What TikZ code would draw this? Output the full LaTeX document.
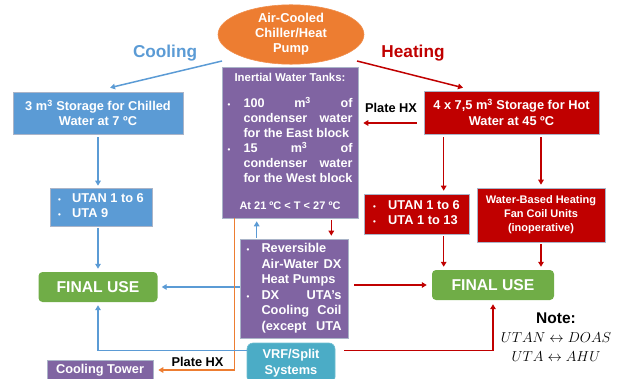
\documentclass[tikz,border=0pt]{standalone}
\usepackage{fontspec}
\setmainfont{Liberation Sans}
\usetikzlibrary{arrows.meta,calc,shapes.geometric}
\definecolor{cblue}{HTML}{5B9BD5}
\definecolor{cred}{HTML}{C00000}
\definecolor{cpurple}{HTML}{8064A2}
\definecolor{cgreen}{HTML}{70AD47}
\definecolor{corange}{HTML}{ED7D31}
\definecolor{cteal}{HTML}{4BACC6}
\definecolor{bord}{RGB}{170,180,200}
\newcommand\fsz[2]{\fontsize{#1}{#2}\selectfont}
\newcommand\bul{{\fontsize{8}{8}\selectfont\textbullet}}
\begin{document}
\begin{tikzpicture}[x=1pt,y=-1pt,
  box/.style={rectangle, draw=bord, line width=0.6pt, inner sep=0pt, text=white,
    font=\bfseries\fsz{12.8}{15.5}, align=center},
  finalbox/.style={rectangle, rounded corners=4pt, fill=cgreen, inner sep=0pt, text=white,
    font=\bfseries\fsz{15.7}{18}, minimum width=119pt, minimum height=30pt},
  lbl/.style={font=\bfseries\fsz{12.8}{15}, text=black},
  arr/.style={line width=1.5pt, -{Triangle[length=5pt,width=5.5pt]}},
  coolarr/.style={arr, draw=cblue},
  heatarr/.style={arr, draw=cred},
  hxarr/.style={arr, draw=corange},
]
\useasboundingbox (0,0) rectangle (620,379);
\clip (0,0) rectangle (620,379);

% nodes
\node[ellipse, fill=corange, draw=corange!85!white, line width=0.6pt, minimum width=146pt, minimum height=55pt,
  inner sep=0pt, text=white, font=\bfseries\fsz{12.9}{15}, align=center] (ell) at (291,34.5)
  {Air-Cooled\\Chiller/Heat\\Pump};
\node[font=\bfseries\fsz{17.2}{20}, text=cblue] (cool) at (165,53) {Cooling};
\node[font=\bfseries\fsz{17.2}{20}, text=cred] (heat) at (413,53) {Heating};

\node[box, fill=cblue, minimum width=170pt, minimum height=42pt] (chilled) at (98,113)
  {3 m\textsuperscript{3} Storage for Chilled\\Water at 7 ºC};
\node[box, fill=cred, minimum width=175pt, minimum height=43pt] (hot) at (511.5,112.5)
  {4 x 7,5 m\textsuperscript{3} Storage for Hot\\Water at 45 ºC};

\node[box, fill=cpurple, minimum width=136pt, minimum height=151pt, font=\bfseries\fsz{12.6}{14.8}] (inert) at (290,142.5)
  {\begin{tabular}{@{}l@{}l@{}}
   \multicolumn{2}{@{}c@{}}{\fsz{11.4}{14.8}Inertial Water Tanks:}\\[12pt]
   \makebox[16pt][l]{\bul} & \hbox to 109pt{100\hfill m\textsuperscript{3}\hfill of}\\
   & \hbox to 109pt{condenser\hfill water}\\
   & for the East block\\
   \makebox[16pt][l]{\bul} & \hbox to 109pt{15\hfill m\textsuperscript{3}\hfill of}\\
   & \hbox to 109pt{condenser\hfill water}\\
   & for the West block\\[13pt]
   \multicolumn{2}{@{}c@{}}{\fsz{11}{14.8}At 21 ºC < T < 27 ºC}
   \end{tabular}};

\node[box, fill=cpurple, minimum width=108pt, minimum height=99pt] (rev) at (294,288.5)
  {\begin{tabular}{@{}l@{}l@{}}
   \makebox[15pt][l]{\bul} & Reversible\\
   & \hbox to 80pt{Air-Water\hfill DX}\\
   & Heat Pumps\\
   \makebox[15pt][l]{\bul} & \hbox to 80pt{DX\hfill UTA’s}\\
   & \hbox to 80pt{Cooling\hfill Coil}\\
   & \hbox to 80pt{(except\hfill UTA}
   \end{tabular}};

\node[box, fill=cblue, minimum width=102pt, minimum height=38pt] (utanb) at (101,207)
  {\begin{tabular}{@{}l@{}l@{}}
   \makebox[14pt][l]{\bul} & UTAN 1 to 6\\
   \makebox[14pt][l]{\bul} & UTA 9
   \end{tabular}};
\node[box, fill=cred, minimum width=105pt, minimum height=40pt] (utanr) at (416.5,214)
  {\begin{tabular}{@{}l@{}l@{}}
   \makebox[15pt][l]{\bul} & UTAN 1 to 6\\
   \makebox[15pt][l]{\bul} & UTA 1 to 13
   \end{tabular}};
\node[box, fill=cred, minimum width=128pt, minimum height=54pt, font=\bfseries\fsz{11}{14}] (water) at (541,215)
  {Water-Based Heating\\Fan Coil Units\\(inoperative)};

\node[finalbox] (finalL) at (98,287) {FINAL USE};
\node[finalbox, minimum width=122pt] (finalR) at (493,285) {FINAL USE};

\node[rectangle, rounded corners=6pt, fill=cteal, draw=cteal!80!white, line width=0.6pt, inner sep=0pt,
  minimum width=88pt, minimum height=40pt, text=white, font=\bfseries\fsz{12.8}{16}, align=center] (vrf) at (291,363)
  {VRF/Split\\Systems};
\node[box, fill=cpurple, minimum width=106pt, minimum height=20pt] (tower) at (100,370) {Cooling Tower};

\node[lbl] (hx1) at (391,108) {Plate HX};
\node[lbl] (hx2) at (197.5,362) {Plate HX};

\node[align=center, text=black, font=\fsz{14}{19}] (note) at (556,337)
  {{\bfseries\fsz{15.5}{19}Note:}\\$UTAN \leftrightarrow DOAS$\\$UTA \leftrightarrow AHU$};

% connectors
\draw[coolarr] ($(ell.center)+(-69,26.5)$) -- ($(chilled.north)+(12,-4)$);
\draw[heatarr] ($(ell.center)+(66,26.5)$) -- ($(hot.north)+(-48.5,-3)$);
\draw[heatarr] ($(hot.west)+(-7,10.5)$) -- ($(inert.east |- hot.west)+(5,10.5)$);

\draw[coolarr] ($(chilled.south)+(0,3)$) -- ($(chilled.south |- utanb.north)+(0,-2)$);
\draw[coolarr] ($(utanb.south -| chilled.south)+(0,2)$) -- ($(finalL.north)+(0,-3)$);

\draw[coolarr] (rev.west |- finalL.east) -- ($(finalL.east)+(4,0)$);
\draw[heatarr] ($(rev.east |- finalR.west)+(6,0)$) -- ($(finalR.west)+(-5,0)$);

\draw[coolarr] ($(rev.north west)+(17,-1)$) -- ($(rev.north west |- inert.south)+(17,3)$);
\draw[heatarr] ($(inert.south -| rev.north east)+(-17,2)$) -- ($(rev.north east)+(-17,-3)$);

\draw[hxarr] ($(inert.south west)+(13,0)$) |- ($(tower.east)+(5,0)$);

\draw[coolarr] ($(vrf.north west)+(0,8)$) -| ($(finalL.south)+(0,3)$);
\draw[heatarr] ($(vrf.north east)+(9,8)$) -| ($(finalR.south)+(0,4)$);

\draw[heatarr] ($(hot.south west)+(20,3)$) -- ($(hot.south west |- utanr.north)+(20,-3)$);
\draw[heatarr] ($(water.north |- hot.south)+(0,3)$) -- ($(water.north)+(0,-3)$);
\draw[heatarr] ($(utanr.south -| hot.south west)+(20,2)$) -- ($(hot.south west |- finalR.north)+(20,-3)$);
\draw[heatarr] ($(water.south)+(0,2)$) -- ($(water.south |- finalR.north)+(0,-3)$);
\end{tikzpicture}
\end{document}
